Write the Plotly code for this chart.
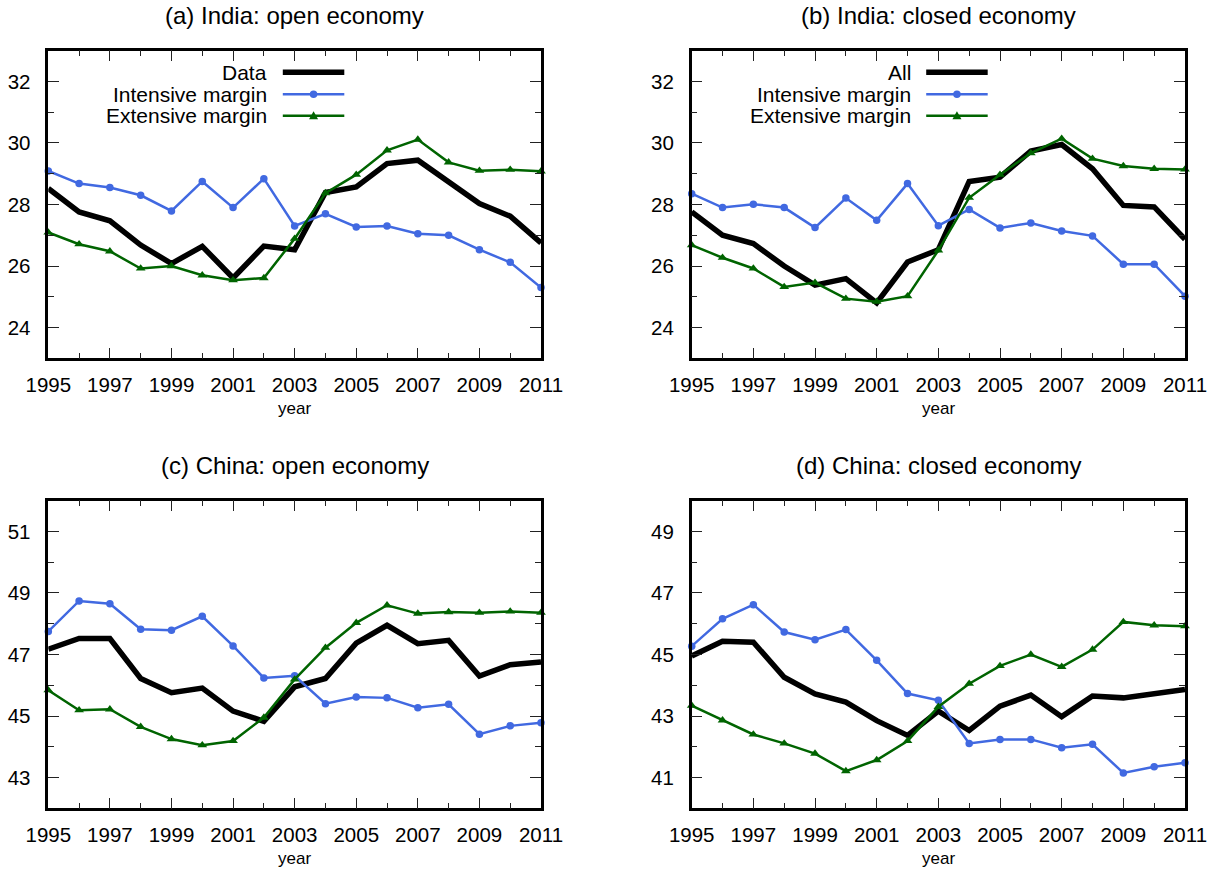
import plotly.graph_objects as go

W, H = 1214, 871

years = list(range(1995, 2012))

# (a) India: open economy
india_open_data = [28.52, 27.76, 27.47, 26.68, 26.08, 26.64, 25.61, 26.65, 26.53, 28.39, 28.57, 29.33, 29.44, 28.73, 28.03, 27.62, 26.75]
india_open_int = [29.09, 28.68, 28.55, 28.30, 27.79, 28.75, 27.90, 28.84, 27.30, 27.70, 27.27, 27.30, 27.05, 27.00, 26.53, 26.12, 25.30]
india_open_ext = [27.09, 26.71, 26.48, 25.92, 26.00, 25.70, 25.54, 25.61, 26.89, 28.37, 28.97, 29.76, 30.11, 29.37, 29.10, 29.13, 29.08]

# (b) India: closed economy
india_closed_all = [27.76, 27.00, 26.73, 26.00, 25.38, 25.59, 24.80, 26.13, 26.53, 28.75, 28.89, 29.74, 29.95, 29.16, 27.97, 27.92, 26.87]
india_closed_int = [28.35, 27.90, 28.01, 27.90, 27.25, 28.21, 27.49, 28.68, 27.31, 27.84, 27.24, 27.40, 27.14, 26.98, 26.06, 26.06, 25.02]
india_closed_ext = [26.68, 26.27, 25.92, 25.32, 25.46, 24.94, 24.84, 25.02, 26.51, 28.22, 28.97, 29.67, 30.14, 29.49, 29.25, 29.16, 29.14]

# (c) China: open economy
china_open_data = [47.17, 47.52, 47.52, 46.22, 45.76, 45.91, 45.16, 44.83, 45.95, 46.22, 47.37, 47.95, 47.35, 47.46, 46.30, 46.67, 46.76]
china_open_int = [47.75, 48.74, 48.65, 47.82, 47.79, 48.24, 47.28, 46.24, 46.31, 45.40, 45.62, 45.59, 45.27, 45.38, 44.41, 44.68, 44.78]
china_open_ext = [45.84, 45.19, 45.22, 44.65, 44.25, 44.05, 44.19, 44.95, 46.19, 47.22, 48.03, 48.60, 48.33, 48.38, 48.36, 48.40, 48.36]

# (d) China: closed economy
china_closed_all = [44.95, 45.43, 45.40, 44.26, 43.72, 43.45, 42.85, 42.37, 43.16, 42.53, 43.32, 43.68, 42.98, 43.65, 43.59, 43.73, 43.86]
china_closed_int = [45.27, 46.16, 46.62, 45.73, 45.48, 45.81, 44.81, 43.73, 43.51, 42.11, 42.24, 42.24, 41.97, 42.08, 41.15, 41.35, 41.48]
china_closed_ext = [43.34, 42.86, 42.40, 42.11, 41.78, 41.21, 41.57, 42.19, 43.30, 44.05, 44.63, 45.00, 44.60, 45.16, 46.06, 45.95, 45.92]

titles = ["(a) India: open economy", "(b) India: closed economy",
          "(c) China: open economy", "(d) China: closed economy"]
first_labels = ["Data", "All", None, None]
series_names = ["Intensive margin", "Extensive margin"]

panels_data = [
    (india_open_data, india_open_int, india_open_ext),
    (india_closed_all, india_closed_int, india_closed_ext),
    (china_open_data, china_open_int, china_open_ext),
    (china_closed_all, china_closed_int, china_closed_ext),
]
y_ranges = [(23, 33), (23, 33), (42, 52), (40, 50)]
y_major = [[24, 26, 28, 30, 32], [24, 26, 28, 30, 32], [43, 45, 47, 49, 51], [41, 43, 45, 47, 49]]
y_minor = [[25, 27, 29, 31], [25, 27, 29, 31], [44, 46, 48, 50], [42, 44, 46, 48]]
x_major = [y for y in years if (y - 1995) % 2 == 0]
x_minor = [y for y in years if (y - 1995) % 2 == 1]

BLACK = "#000000"
BLUE = "#4169E1"
GREEN = "#006400"
TICKC = "#222222"
FONT = "Liberation Sans, Arial, sans-serif"

# pixel boxes of plotting areas (left, top, right, bottom)
boxes = [(48.3, 50.7, 541, 358.3), (691.7, 50.7, 1185, 358.3),
         (48.3, 500.7, 541, 808.3), (691.7, 500.7, 1185, 808.3)]


def px(x):
    return x / W


def py(y):
    return 1 - y / H


fig = go.Figure()
layout = dict(width=W, height=H, margin=dict(l=0, r=0, t=0, b=0, autoexpand=False),
              paper_bgcolor="white", plot_bgcolor="white", showlegend=False,
              font=dict(family=FONT, color="black", size=20))
annotations = []
shapes = []

for i in range(4):
    n = "" if i == 0 else str(i + 1)
    xa, ya = "x" + n, "y" + n
    d, it, ex = panels_data[i]
    fig.add_trace(go.Scatter(x=years, y=d, mode="lines", xaxis=xa, yaxis=ya,
                             line=dict(color=BLACK, width=5.5), cliponaxis=False))
    fig.add_trace(go.Scatter(x=years, y=it, mode="lines+markers", xaxis=xa, yaxis=ya,
                             line=dict(color=BLUE, width=2.5),
                             marker=dict(symbol="circle", size=7.5, color=BLUE), cliponaxis=False))
    fig.add_trace(go.Scatter(x=years, y=ex, mode="lines+markers", xaxis=xa, yaxis=ya,
                             line=dict(color=GREEN, width=2.5),
                             marker=dict(symbol="triangle-up", size=8.5, color=GREEN), cliponaxis=False))
    l, t, r, b = boxes[i]
    layout["xaxis" + n] = dict(
        domain=[px(l), px(r)], anchor=ya, range=[1995, 2011], automargin=False,
        tickmode="array", tickvals=x_major, ticktext=[str(v) for v in x_major],
        ticks="inside", ticklen=11, tickwidth=1.2, tickcolor=TICKC,
        minor=dict(tickmode="array", tickvals=x_minor, ticks="inside",
                   ticklen=6, tickwidth=1.2, tickcolor=TICKC, showgrid=False),
        showline=True, linewidth=2.5, linecolor="black", mirror="ticks",
        showgrid=False, zeroline=False, ticklabelstandoff=6,
        tickfont=dict(size=20.5, family=FONT))
    layout["yaxis" + n] = dict(
        domain=[py(b), py(t)], anchor=xa, range=list(y_ranges[i]), automargin=False,
        tickmode="array", tickvals=y_major[i],
        ticks="inside", ticklen=11, tickwidth=1.2, tickcolor=TICKC,
        minor=dict(tickmode="array", tickvals=y_minor[i], ticks="inside",
                   ticklen=6, tickwidth=1.2, tickcolor=TICKC, showgrid=False),
        showline=True, linewidth=2.5, linecolor="black", mirror="ticks",
        showgrid=False, zeroline=False, ticklabelstandoff=11,
        tickfont=dict(size=20.5, family=FONT))
    cx = (l + r) / 2
    annotations.append(dict(text=titles[i], x=px(cx), y=py(t - 35), xref="paper", yref="paper",
                            xanchor="center", yanchor="middle", showarrow=False,
                            font=dict(size=24, family=FONT)))
    annotations.append(dict(text="year", x=px(cx), y=py(b + 50), xref="paper", yref="paper",
                            xanchor="center", yanchor="middle", showarrow=False,
                            font=dict(size=17, family=FONT)))

    # custom legend (text right-aligned, sample to the right), top panels only
    if first_labels[i] is not None:
        tx = l + 221
        sx0, sx1 = l + 234.5, l + 296
        rows = [72.3, 94.3, 115.7]
        labels = [first_labels[i]] + series_names
        for lab, yy in zip(labels, rows):
            annotations.append(dict(text=lab, x=px(tx), y=py(yy), xref="paper", yref="paper",
                                    xanchor="right", yanchor="middle", showarrow=False,
                                    font=dict(size=21, family=FONT)))
        shapes.append(dict(type="line", xref="paper", yref="paper",
                           x0=px(sx0), x1=px(sx1), y0=py(rows[0]), y1=py(rows[0]),
                           line=dict(color=BLACK, width=5.5)))
        shapes.append(dict(type="line", xref="paper", yref="paper",
                           x0=px(sx0), x1=px(sx1), y0=py(rows[1]), y1=py(rows[1]),
                           line=dict(color=BLUE, width=2.5)))
        shapes.append(dict(type="line", xref="paper", yref="paper",
                           x0=px(sx0), x1=px(sx1), y0=py(rows[2]), y1=py(rows[2]),
                           line=dict(color=GREEN, width=2.5)))
        mx = (sx0 + sx1) / 2
        shapes.append(dict(type="circle", xref="paper", yref="paper",
                           x0=px(mx - 3.75), x1=px(mx + 3.75), y0=py(rows[1] + 3.75), y1=py(rows[1] - 3.75),
                           fillcolor=BLUE, line=dict(width=0)))
        ty = rows[2]
        path = "M {} {} L {} {} L {} {} Z".format(px(mx - 4.5), py(ty + 3.5), px(mx + 4.5), py(ty + 3.5),
                                                   px(mx), py(ty - 4.5))
        shapes.append(dict(type="path", xref="paper", yref="paper", path=path,
                           fillcolor=GREEN, line=dict(width=0)))

layout["annotations"] = annotations
layout["shapes"] = shapes
fig.update_layout(**layout)
fig.write_html("out.html", config={"displayModeBar": False},
               post_script="document.body.style.margin='0px';")
